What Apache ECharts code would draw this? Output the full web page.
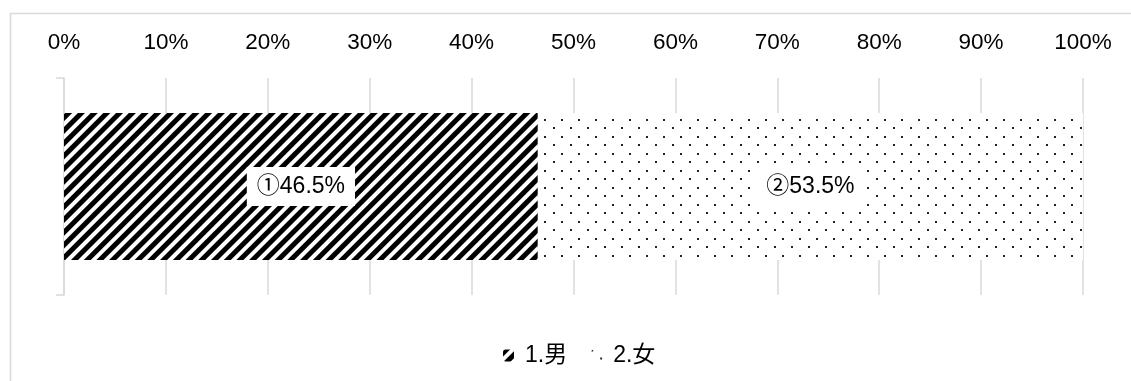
<!DOCTYPE html>
<html>
<head>
<meta charset="utf-8">
<script src="https://cdn.jsdelivr.net/npm/echarts@6/dist/echarts.min.js"></script>
<style>html,body{margin:0;padding:0;background:#fff}#c{width:1131px;height:381px}</style>
</head>
<body>
<div id="c"></div>
<script>
const categories = [''];
const seriesNames = ['1.男', '2.女'];
const seriesMarks = ['①', '②'];
const maleValues = [46.5];
const femaleValues = [53.5];
const xTickLabels = ['0%','10%','20%','30%','40%','50%','60%','70%','80%','90%','100%'];

const FONT = '"Liberation Sans", "Noto Sans CJK JP", sans-serif';
const stripeDecal = {
  symbol: 'rect', symbolSize: 1, color: '#000',
  dashArrayX: [1, 0], dashArrayY: [5, 4], rotation: -Math.PI / 4
};
const dotDecal = {
  symbol: 'rect', symbolSize: 1, color: '#222',
  dashArrayX: [[2, 15], [0, 9, 2, 6]], dashArrayY: [2, 6, 2, 7]
};
function mkLabel(mark) {
  return {
    show: true, position: 'inside', color: '#000', fontSize: 23, fontFamily: FONT,
    backgroundColor: '#fff', padding: [8, 10], lineHeight: 23,
    formatter: p => mark + p.value + '%'
  };
}
const chart = echarts.init(document.getElementById('c'));
chart.setOption({
  animation: false,
  backgroundColor: '#fff',
  graphic: [{ type: 'rect', left: 8, top: 11, shape: { width: 2000, height: 1000 },
    style: { fill: 'none', stroke: '#d9d9d9', lineWidth: 1.5 }, silent: true }],
  grid: { left: 64, right: 48, top: 78, bottom: 86 },
  legend: {
    left: 498, top: 339, itemWidth: 11, itemHeight: 12, itemGap: 24,
    textStyle: { fontSize: 23, fontFamily: FONT, color: '#000', padding: [0, 0, 0, 6] },
    data: seriesNames
  },
  xAxis: {
    type: 'value', position: 'top', min: 0, max: 100, interval: 10,
    axisLine: { show: false }, axisTick: { show: false },
    splitLine: { lineStyle: { color: '#d9d9d9', width: 1.5 } },
    axisLabel: { margin: 24, fontSize: 22.5, lineHeight: 22, fontFamily: FONT, color: '#000',
      formatter: v => xTickLabels[Math.round(v / 10)] }
  },
  yAxis: {
    type: 'category', data: categories,
    axisLine: { show: true, lineStyle: { color: '#d9d9d9', width: 1.5 } },
    axisTick: { show: true, length: 8, lineStyle: { color: '#d9d9d9', width: 1.5 } },
    axisLabel: { show: false }
  },
  series: [
    { name: seriesNames[0], type: 'bar', stack: 's', barWidth: 147, data: maleValues,
      itemStyle: { color: '#fff', decal: stripeDecal }, label: mkLabel(seriesMarks[0]) },
    { name: seriesNames[1], type: 'bar', stack: 's', barWidth: 147, data: femaleValues,
      itemStyle: { color: '#fff', decal: dotDecal }, label: mkLabel(seriesMarks[1]) }
  ]
});
</script>
</body>
</html>
